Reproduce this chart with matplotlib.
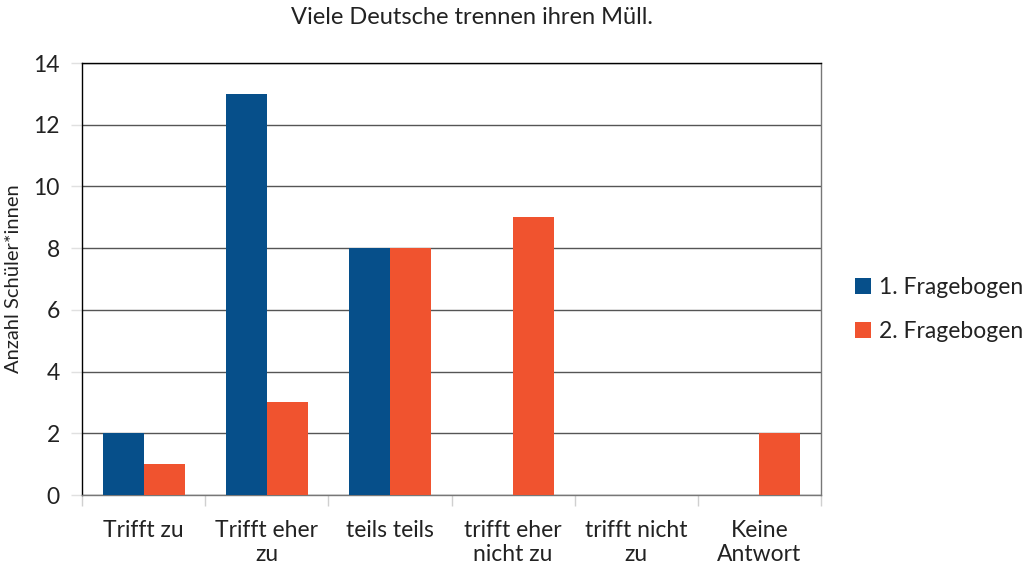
import numpy as np
import matplotlib.pyplot as plt

categories = ["Trifft zu", "Trifft eher\nzu", "teils teils", "trifft eher\nnicht zu",
              "trifft nicht\nzu", "Keine\nAntwort"]
fragebogen_1 = [2, 13, 8, 0, 0, 0]
fragebogen_2 = [1, 3, 8, 9, 0, 2]
series_names = ["1. Fragebogen", "2. Fragebogen"]

BLUE = "#064f8a"
ORANGE = "#f0532f"

plt.rcParams["font.family"] = ["Lato", "DejaVu Sans"]

fig = plt.figure(figsize=(10.29, 5.64), dpi=100)
ax = fig.add_axes([82 / 1029, 1 - 495 / 564, (821 - 82) / 1029, (495 - 63) / 564])

x = np.arange(len(categories))
w = 1 / 3
ax.bar(x - w / 2, fragebogen_1, width=w, color=BLUE, label=series_names[0], zorder=3)
ax.bar(x + w / 2, fragebogen_2, width=w, color=ORANGE, label=series_names[1], zorder=3)

ax.set_xlim(-0.5, len(categories) - 0.5)
ax.set_ylim(0, 14)
ax.set_yticks(range(0, 15, 2))
ax.yaxis.grid(True, color="#555555", linewidth=1, zorder=0)

# category labels, ticks at boundaries
ax.set_xticks(x)
ax.set_xticklabels(categories, fontsize=16.5, color="#222222", linespacing=1.2)
ax.tick_params(axis="x", length=0, pad=18)
ax.set_xticks(np.arange(-0.5, len(categories)), minor=True)
ax.tick_params(axis="x", which="minor", length=8, color="#d0d0d0", width=1)
ax.tick_params(axis="y", length=8, color="#e0e0e0", width=1, labelsize=16.5,
               labelcolor="#222222", pad=8)

for side in ["top", "left"]:
    ax.spines[side].set_color("black")
for side in ["right", "bottom"]:
    ax.spines[side].set_color("#777777")
for s in ax.spines.values():
    s.set_linewidth(1)

ax.set_ylabel("Anzahl Schüler*innen", fontsize=14.5, color="#222222", labelpad=8)
fig.text(472 / 1029, 1 - 18 / 564, "Viele Deutsche trennen ihren Müll.",
         ha="center", va="center", fontsize=17, color="#222222")

ax.legend(loc="center left", bbox_to_anchor=(1.046, 0.43), frameon=False, fontsize=16.5,
          handlelength=0.7, handleheight=0.7, handletextpad=0.35, labelspacing=1.0,
          borderaxespad=0, borderpad=0, labelcolor="#222222")

fig.savefig("out.png", dpi=100)
